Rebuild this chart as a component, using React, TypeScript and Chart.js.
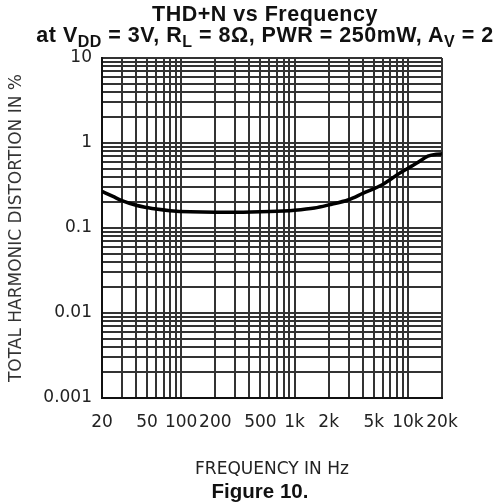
import React, { useEffect, useRef } from 'react';
import { Chart, registerables } from 'chart.js';

Chart.register(...registerables);

// ---- data ----
const frequenciesHz = [20, 25, 30, 40, 50, 60, 80, 120, 200, 300, 600, 1000, 1500, 2000, 3000, 4000, 6000, 8000, 12000, 15000, 18000, 20000];
const thdPercent = [0.27, 0.235, 0.21, 0.185, 0.174, 0.167, 0.16, 0.155, 0.153, 0.153, 0.156, 0.162, 0.172, 0.187, 0.215, 0.255, 0.325, 0.42, 0.58, 0.7, 0.74, 0.745];

// grid / tick positions
const xGridValues = [20, 30, 40, 50, 60, 70, 80, 90, 100, 200, 300, 400, 500, 600, 700, 800, 900, 1000, 2000, 3000, 4000, 5000, 6000, 7000, 8000, 9000, 10000, 20000];
const xLabelValues = [20, 50, 100, 200, 500, 1000, 2000, 5000, 10000, 20000];
const xLabelTexts = ['20', '50', '100', '200', '500', '1k', '2k', '5k', '10k', '20k'];

const yGridValues = [
  0.001, 0.002, 0.003, 0.004, 0.005, 0.006, 0.007, 0.008, 0.009,
  0.01, 0.02, 0.03, 0.04, 0.05, 0.06, 0.07, 0.08, 0.09,
  0.1, 0.2, 0.3, 0.4, 0.5, 0.6, 0.7, 0.8, 0.9,
  1, 2, 3, 4, 5, 6, 7, 8, 9, 10,
];
const yLabelValues = [0.001, 0.01, 0.1, 1, 10];
const yLabelTexts = ['0.001', '0.01', '0.1', '1', '10'];

const titleLine1 = 'THD+N vs Frequency';
const xAxisTitle = 'FREQUENCY IN Hz';
const yAxisTitle = 'TOTAL HARMONIC DISTORTION IN %';
const figureCaption = 'Figure 10.';

const findLabel = (v: number, values: number[], texts: string[]) => {
  const i = values.findIndex((x) => Math.abs(x - v) / x < 1e-6);
  return i >= 0 ? texts[i] : '';
};

const GRID = '#333';
const TICK_FONT = { family: '"DejaVu Sans", sans-serif', size: 17 };

export default function App() {
  const canvasRef = useRef<HTMLCanvasElement | null>(null);

  useEffect(() => {
    if (!canvasRef.current) return;
    const chart = new Chart(canvasRef.current, {
      type: 'line',
      data: {
        datasets: [
          {
            data: frequenciesHz.map((f, i) => ({ x: f, y: thdPercent[i] })),
            borderColor: '#000',
            borderWidth: 3.5,
            pointRadius: 0,
            cubicInterpolationMode: 'monotone',
            fill: false,
          },
        ],
      },
      options: {
        animation: false,
        responsive: false,
        events: [],
        layout: { padding: { left: 0, top: 58, right: 56, bottom: 23 } },
        plugins: { legend: { display: false }, tooltip: { enabled: false }, title: { display: false } },
        scales: {
          x: {
            type: 'logarithmic',
            min: 20,
            max: 20000,
            afterBuildTicks: (scale: any) => {
              scale.ticks = xGridValues.map((v) => ({ value: v }));
            },
            afterFit: (scale: any) => {
              scale.height = 82;
            },
            ticks: {
              autoSkip: false,
              maxRotation: 0,
              minRotation: 0,
              padding: 14,
              color: '#222',
              font: TICK_FONT,
              callback: (v: any) => findLabel(Number(v), xLabelValues, xLabelTexts),
            },
            grid: { color: GRID, lineWidth: 2, drawTicks: false },
            border: { display: true, color: '#111', width: 2 },
            title: {
              display: true,
              text: xAxisTitle,
              color: '#222',
              font: { family: '"DejaVu Sans", sans-serif', size: 17 },
              padding: { top: 0, bottom: 0 },
            },
          },
          y: {
            type: 'logarithmic',
            min: 0.001,
            max: 10,
            afterBuildTicks: (scale: any) => {
              scale.ticks = yGridValues.map((v) => ({ value: v }));
            },
            afterFit: (scale: any) => {
              scale.width = 102;
            },
            ticks: {
              autoSkip: false,
              padding: 10,
              color: '#222',
              font: TICK_FONT,
              callback: (v: any) => findLabel(Number(v), yLabelValues, yLabelTexts),
            },
            grid: { color: GRID, lineWidth: 2, drawTicks: false },
            border: { display: true, color: '#111', width: 2 },
            title: {
              display: true,
              text: yAxisTitle,
              color: '#333',
              font: { family: '"DejaVu Sans", sans-serif', size: 17 },
              padding: { top: 6, bottom: 0 },
            },
          },
        },
      } as any,
    });
    return () => chart.destroy();
  }, []);

  const boldFont = '"Liberation Sans", Arial, sans-serif';
  const subStyle: React.CSSProperties = { fontSize: 16, position: 'relative', top: 5, lineHeight: 0 };
  const titleStyle: React.CSSProperties = {
    position: 'absolute', left: 0, width: 530, textAlign: 'center', fontFamily: boldFont, fontWeight: 'bold',
    fontSize: 21.5, letterSpacing: 0.5, lineHeight: '22px', color: '#111', whiteSpace: 'nowrap',
  };

  return (
    <div style={{ position: 'absolute', left: 0, top: 0, width: 498, height: 503, overflow: 'hidden', background: '#fff' }}>
      <canvas ref={canvasRef} width={498} height={503} style={{ position: 'absolute', left: 0, top: 0, width: 498, height: 503 }} />
      <div style={{ ...titleStyle, top: 3 }}>{titleLine1}</div>
      <div style={{ ...titleStyle, top: 24 }}>
        at V<span style={subStyle}>DD</span> = 3V, R<span style={subStyle}>L</span> = 8Ω, PWR = 250mW, A<span style={subStyle}>V</span> = 2
      </div>
      <div style={{ position: 'absolute', left: 0, top: 480, width: 520, textAlign: 'center', fontFamily: boldFont, fontWeight: 'bold', fontSize: 20.5, lineHeight: '22px', color: '#111', whiteSpace: 'nowrap' }}>
        {figureCaption}
      </div>
    </div>
  );
}
